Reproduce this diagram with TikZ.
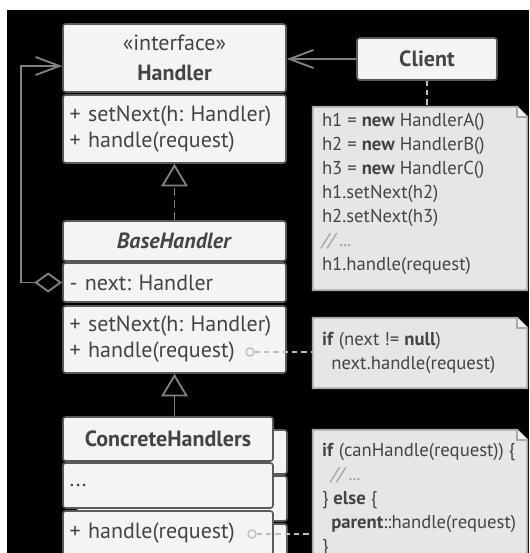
\documentclass[tikz,border=0pt]{standalone}
\usepackage{fontspec}
\setmainfont{PT Sans}
\frenchspacing
\usetikzlibrary{arrows.meta,calc}
\definecolor{boxfill}{HTML}{F4F4F4}
\definecolor{boxline}{HTML}{5A5A5A}
\definecolor{ink}{HTML}{444444}
\definecolor{notefill}{HTML}{E6E6E6}
\definecolor{noteline}{HTML}{A8A8A8}
\definecolor{foldfill}{HTML}{F2F2F2}
\definecolor{wiregray}{HTML}{808080}
\definecolor{linkgray}{HTML}{BDBDBD}
\definecolor{cmt}{HTML}{9A9A9A}

\tikzset{
  cls/.style={draw=boxline, fill=boxfill, line width=1.2pt, rounded corners=2pt, text=ink,
    inner xsep=5pt, inner ysep=0pt, font=\fontsize{16.5}{19.5}\selectfont},
  wide/.style={text width=157.25pt, align=left},
  narrow/.style={text width=147.5pt, align=left},
  note/.style={fill=notefill, inner sep=0pt, minimum width=160.5pt},
  notetext/.style={anchor=west, inner sep=0pt, text=ink, align=left, font=\fontsize{14}{18}\selectfont},
  noteedge/.style={draw=noteline, line width=1.2pt},
  wire/.style={draw=wiregray, line width=1.4pt},
  assoc/.style={wire, -{Straight Barb[length=18pt,width=13.5pt]}},
  aggr/.style={wire, {Diamond[open,fill=black,length=21pt,width=15pt]}-{Straight Barb[length=18pt,width=13.5pt]}},
  realize/.style={wire, dash pattern=on 6pt off 3pt, -{Triangle[open,fill=black,length=17pt,width=20pt]}},
  inherit/.style={wire, -{Triangle[open,fill=black,length=17pt,width=20pt]}},
  link/.style={draw=linkgray, line width=1.2pt, dash pattern=on 4pt off 3pt},
  dot/.style={circle, draw=linkgray, line width=1pt, minimum size=6pt, inner sep=0pt}
}

\begin{document}
\begin{tikzpicture}[x=0.75pt,y=0.75pt,yscale=-1,xscale=1]
\useasboundingbox (0,0) rectangle (529,553);
\fill[white] (0,0) rectangle (529,553);
\fill[black] (7,10) rectangle (529,553);

%Shape: Rectangle -- Handler
\node[cls, wide, align=center, minimum height=51pt, font=\fontsize{16.5}{22.5}\selectfont] (hhead) at (174.5,58) {«interface»\\\textbf{Handler}};
\node[cls, wide, minimum height=51pt] (hbody) at (174.5,129) {+ setNext(h: Handler)\\+ handle(request)};

%Shape: Rectangle -- BaseHandler
\node[cls, wide, align=center, minimum height=30pt] (bhhead) at (174.5,241) {\textbf{\textit{BaseHandler}}};
\node[cls, wide, minimum height=29.25pt] (bhfield) at (174.5,282.5) {- next: Handler};
\node[cls, wide, minimum height=50.25pt] (bhmeth) at (174.5,339.5) {+ setNext(h: Handler)\\+ handle(request)};

%Shape: Rectangle -- ConcreteHandlers (card behind)
\foreach \yy/\hh/\nm in {452/33/chbk1, 498.5/33.75/chbk2, 546/33/chbk3}
  \node[cls, narrow, minimum height=\hh pt] (\nm) at (182,\yy) {};
\node[cls, narrow, align=center, minimum height=33pt] (chhead) at (168,439) {\textbf{ConcreteHandlers}};
\node[cls, narrow, minimum height=33.75pt] (chfield) at (168,485.5) {...};
\node[cls, narrow, minimum height=33pt] (chmeth) at (168,533) {+ handle(request)};

%Shape: Rectangle -- Client
\node[cls, minimum width=105pt, minimum height=31.5pt] (client) at (427,59) {\textbf{Client}};

%Shape: Note
\node[note, minimum height=137.25pt] (note1) at (420,198.5) {};
\node[note, minimum height=52.5pt] (note2) at (420,353) {};
\node[note, minimum height=105pt] (note3) at (420,500) {};
\foreach \nt in {note1,note2,note3}{
  \fill[black] (\nt.north east) -- ($(\nt.north east)+(-10,0)$) -- ($(\nt.north east)+(0,10)$) -- cycle;
  \draw[noteedge] (\nt.north west) -- ($(\nt.north east)+(-10,0)$) -- ($(\nt.north east)+(0,10)$) -- (\nt.south east) -- (\nt.south west) -- cycle;
  \draw[noteedge, fill=foldfill] ($(\nt.north east)+(-10,0)$) -- ($(\nt.north east)+(-10,10)$) -- ($(\nt.north east)+(0,10)$);
}

% Text Node
\node[notetext] (code1) at ($(note1.west)+(9,-5)$) {h1 = \textbf{new} HandlerA()\\
h2 = \textbf{new} HandlerB()\\
h3 = \textbf{new} HandlerC()\\
h1.setNext(h2)\\
h2.setNext(h3)\\
{\color{cmt}\textit{// ...}}\\
h1.handle(request)};
% Text Node
\node[notetext] (code2) at ($(note2.west)+(9,0)$) {\textbf{if} (next != \textbf{null})\\
\hspace*{7pt}next.handle(request)};
% Text Node
\node[notetext] (code3) at ($(note3.west)+(9,0)$) {\textbf{if} (canHandle(request)) \{\\
\hspace*{7pt}{\color{cmt}\textit{// ...}}\\
\} \textbf{else} \{\\
\hspace*{7pt}\textbf{parent}::handle(request)\\
\}};

% Text Node -- note anchors
\node[dot] (dot1) at (250,352) {};
\node[dot] (dot2) at (252,534) {};

%Straight Lines
\draw[assoc] (client.west) -- (client.west -| hhead.east);
\coordinate (hin) at (hhead.west |- 0,66);
\draw[aggr] (bhfield.west) -- ++(-41,0) |- (hin);
\draw[realize] (bhhead.north) -- (hbody.south);
\draw[inherit] (bhmeth.south |- chhead.north) -- (bhmeth.south);
\draw[link] (client.south) -- (client.south |- note1.north);
\draw[link] (dot1) -- (dot1 -| note2.west);
\draw[link] (dot2) -- (dot2 -| note3.west);

\end{tikzpicture}
\end{document}
